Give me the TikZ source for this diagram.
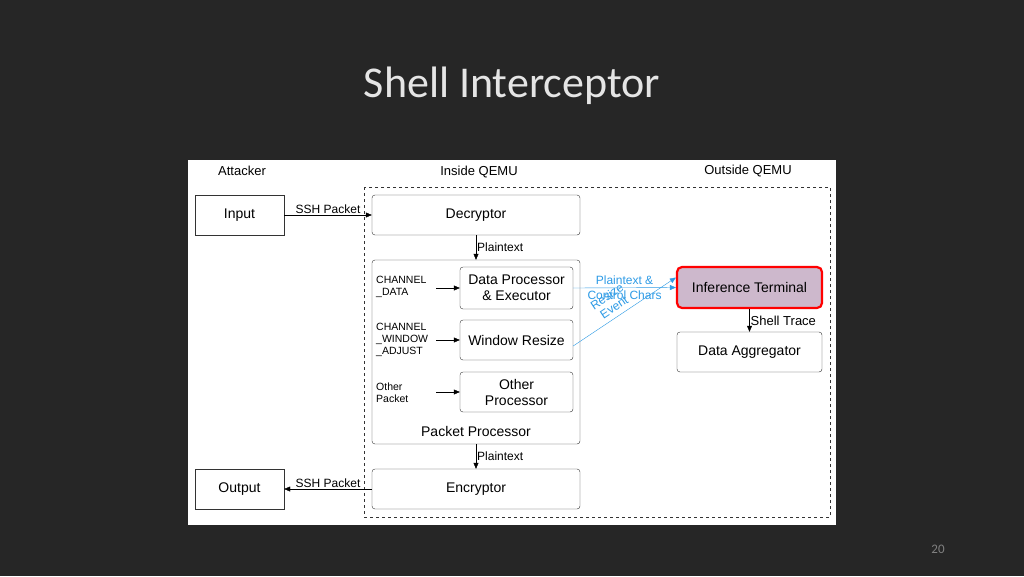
\documentclass[tikz,border=0pt]{standalone}
\usepackage{fontspec}
\setmainfont{Liberation Sans}
\newfontfamily\titlefont{Carlito}
\usetikzlibrary{positioning,arrows.meta}
\definecolor{bgdark}{HTML}{262626}
\definecolor{linkblue}{HTML}{2E9BE6}
\definecolor{termfill}{HTML}{CDB8CC}
\tikzset{
  box/.style={draw=black!80,rounded corners=3pt,font=\fontsize{14}{16}\selectfont,align=center,inner sep=0pt},
  sqbox/.style={draw=black!80,font=\fontsize{14}{16}\selectfont,inner sep=0pt},
  flow/.style={-{Triangle[length=6pt,width=5pt]},black},
  blueflow/.style={-{Triangle[length=6pt,width=5pt]},linkblue},
  lbl/.style={font=\fontsize{12}{13}\selectfont,inner sep=1pt},
  chan/.style={font=\fontsize{10.5}{12}\selectfont,align=left,anchor=west,inner sep=0pt}
}
\begin{document}
\begin{tikzpicture}[x=1pt,y=-1pt]
    % background and panel
    \fill[bgdark] (0,0) rectangle (1024,576);
    \useasboundingbox (0,0) rectangle (1024,576);
    \fill[white] (188,160) rectangle (836,525);
    \node[white!90!black,font=\titlefont\fontsize{44}{48}\selectfont] (title) at (512,86) {Shell Interceptor};
    \node[gray,font=\titlefont\fontsize{13}{14}\selectfont] (page) at (938,549) {20};

    % QEMU boundary
    \draw[dashed,black!80] (364,187) rectangle (830,517);
    \node[font=\fontsize{13}{15}\selectfont] (hatt) at (242,171) {Attacker};
    \node[font=\fontsize{13}{15}\selectfont] (hin) at (479,172) {Inside QEMU};
    \node[font=\fontsize{13}{15}\selectfont] (hout) at (748,171) {Outside QEMU};

    % boxes
    \node[sqbox,minimum width=89pt,minimum height=40pt] (input) at (239.5,215) {Input};
    \node[sqbox,minimum width=89pt,minimum height=40pt] (output) at (239.5,489) {Output};
    \node[box,minimum width=208pt,minimum height=40pt] (decryptor) at (476,215) {Decryptor};
    \node[box,minimum width=208pt,minimum height=40pt] (encryptor) at (476,489) {Encryptor};
    \node[box,minimum width=208pt,minimum height=184pt] (proc) at (476,352) {};
    \node[font=\fontsize{14}{16}\selectfont] (proclbl) at (476,431) {Packet Processor};
    \node[box,minimum width=113pt,minimum height=42pt] (data) at (516.5,288) {Data Processor\\\& Executor};
    \node[box,minimum width=113pt,minimum height=40pt] (resize) at (516.5,340) {Window Resize};
    \node[box,minimum width=113pt,minimum height=40pt] (other) at (516.5,392) {Other\\Processor};
    \node[box,draw=red,line width=2.2pt,fill=termfill,rounded corners=5pt,minimum width=145pt,minimum height=41pt] (term) at (749.5,287.5) {Inference Terminal};
    \node[box,minimum width=145pt,minimum height=40pt] (agg) at (749.5,352) {Data Aggregator};

    % packet type labels
    \node[chan] (cdata) at (376,287) {CHANNEL\\\_DATA};
    \node[chan] (cwin) at (376,340) {CHANNEL\\\_WINDOW\\\_ADJUST};
    \node[chan] (cother) at (376,393) {Other\\Packet};
    \coordinate (a1) at (436,288);
    \coordinate (a2) at (436,340);
    \coordinate (a3) at (436,392);
    \draw[flow] (a1) -- (data);
    \draw[flow] (a2) -- (resize);
    \draw[flow] (a3) -- (other);

    % connectors
    \draw[flow] (input) -- node[lbl,above] {SSH Packet} (decryptor);
    \draw[flow] (encryptor) -- node[lbl,above] {SSH Packet} (output);
    \draw[flow] (decryptor) -- node[lbl,right] {Plaintext} (proc);
    \draw[flow] (proc) -- node[lbl,right] {Plaintext} (encryptor);
    \draw[flow] (term) -- node[lbl,right,font=\fontsize{13}{14}\selectfont] {Shell Trace} (agg);
    \draw[blueflow] (data.east) -- node[lbl,linkblue,align=center,font=\fontsize{12}{15}\selectfont] {Plaintext \&\\Control Chars} (term.west);
    \draw[blueflow] ([yshift=-6pt]resize.east) -- node[lbl,linkblue,align=center,pos=0.45,sloped,above=4pt] {Resize\\Event} ([yshift=10pt]term.west);
\end{tikzpicture}
\end{document}
